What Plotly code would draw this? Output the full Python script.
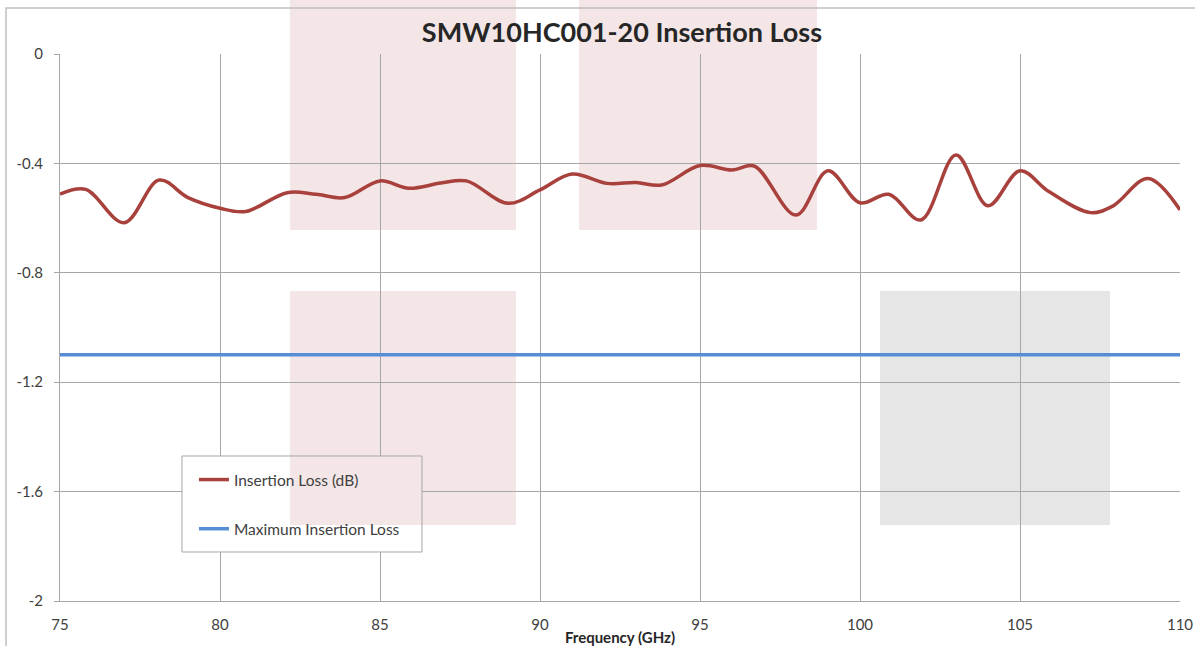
import plotly.graph_objects as go

freq = [75.0, 75.8, 77.0, 78.1, 79.0, 80.0, 80.8, 82.1, 83.0, 83.9, 85.0, 85.9,
        86.9, 87.7, 89.0, 90.0, 91.0, 92.1, 93.0, 93.8, 95.0, 96.0, 96.7, 98.0,
        99.0, 100.0, 100.9, 101.9, 103.0, 104.0, 105.0, 105.9, 107.2, 107.9,
        109.0, 110.0]
insertion_loss = [-0.512, -0.495, -0.617, -0.461, -0.525, -0.564, -0.576, -0.507,
                  -0.513, -0.525, -0.464, -0.491, -0.472, -0.464, -0.546, -0.497,
                  -0.439, -0.473, -0.470, -0.479, -0.408, -0.424, -0.410, -0.589,
                  -0.427, -0.544, -0.513, -0.607, -0.369, -0.555, -0.427, -0.503,
                  -0.580, -0.556, -0.455, -0.570]
max_freq = [75, 110]
max_loss = [-1.1, -1.1]
x_ticks = [75, 80, 85, 90, 95, 100, 105, 110]
y_ticks = [0, -0.4, -0.8, -1.2, -1.6, -2]
y_tick_labels = ["0", "-0.4", "-0.8", "-1.2", "-1.6", "-2"]

FONT = "Lato"
PINK = "#F4E6E7"
GREY = "#E6E6E6"
fig = go.Figure()
fig.add_trace(go.Scatter(x=freq, y=insertion_loss, mode="lines",
                         name="Insertion Loss (dB)", legendgroup="a",
                         line=dict(color="#A8403C", width=3.5, shape="spline", smoothing=1.0)))
fig.add_trace(go.Scatter(x=max_freq, y=max_loss, mode="lines",
                         name="Maximum Insertion Loss", legendgroup="b",
                         line=dict(color="#558ED5", width=3.5)))

shapes = []
# watermark rectangles
for (x0, x1, y0, y1, c) in [(0.2054, 0.4071, 0.6782, 1.12, PINK),
                            (0.4634, 0.6759, 0.6782, 1.12, PINK),
                            (0.2054, 0.4071, 0.1389, 0.5667, PINK),
                            (0.7321, 0.9375, 0.1389, 0.5667, GREY)]:
    shapes.append(dict(type="rect", xref="paper", yref="paper", x0=x0, x1=x1, y0=y0, y1=y1,
                       fillcolor=c, line=dict(width=0), layer="below"))
# outer chart border
shapes.append(dict(type="rect", xref="paper", yref="paper", x0=-0.0482, x1=1.05, y0=-0.2, y1=1.0841,
                   fillcolor="rgba(0,0,0,0)", line=dict(color="#BFBFBF", width=1.5), layer="below"))
# legend box: white left part (hides gridlines) and watermark-tinted right part
shapes.append(dict(type="rect", xref="paper", yref="paper", x0=0.1089, x1=0.3232, y0=0.0896, y1=0.2651,
                   fillcolor="#FFFFFF", line=dict(width=0), layer="above"))
shapes.append(dict(type="rect", xref="paper", yref="paper", x0=0.2054, x1=0.3232, y0=0.1389, y1=0.2651,
                   fillcolor=PINK, line=dict(width=0), layer="above"))
shapes.append(dict(type="rect", xref="paper", yref="paper", x0=0.1089, x1=0.3232, y0=0.0896, y1=0.2651,
                   fillcolor="rgba(0,0,0,0)", line=dict(color="#A6A6A6", width=1), layer="above"))

fig.update_layout(
    width=1195, height=646,
    margin=dict(l=60, r=15, t=54, b=45),
    paper_bgcolor="white", plot_bgcolor="rgba(0,0,0,0)",
    title=dict(text="<b>SMW10HC001-20 Insertion Loss</b>", x=0.5205, xanchor="center",
               y=0.95, yanchor="middle",
               font=dict(family=FONT, size=27, color="#262626")),
    font=dict(family=FONT, size=15, color="#404040"),
    shapes=shapes,
    showlegend=True,
    legend=dict(x=0.1196, y=0.2523, xanchor="left", yanchor="top",
                bgcolor="rgba(0,0,0,0)", borderwidth=0,
                font=dict(family=FONT, size=15.5, color="#404040"),
                traceorder="grouped", tracegroupgap=26),
)
fig.update_xaxes(range=[75, 110], tickvals=x_ticks, showgrid=True, gridcolor="#A6A6A6",
                 gridwidth=1, showline=True, linecolor="#A6A6A6", zeroline=False, automargin=False,
                 ticks="", ticklabelstandoff=10, tickfont=dict(size=15, color="#404040"),
                 title=dict(text="<b>Frequency (GHz)</b>", font=dict(size=15, color="#262626"), standoff=0))
fig.update_yaxes(range=[-2, 0], tickvals=y_ticks, ticktext=y_tick_labels, showgrid=True,
                 gridcolor="#A6A6A6", gridwidth=1, showline=True, linecolor="#A6A6A6",
                 zeroline=False, ticks="outside", ticklen=5, tickcolor="#A6A6A6", automargin=False,
                 ticklabelstandoff=8, tickfont=dict(size=15, color="#404040"))

fig.write_html("out.html", config={"displayModeBar": False},
               post_script="document.body.style.margin='0';document.body.style.overflow='hidden';document.documentElement.style.overflow='hidden';")
